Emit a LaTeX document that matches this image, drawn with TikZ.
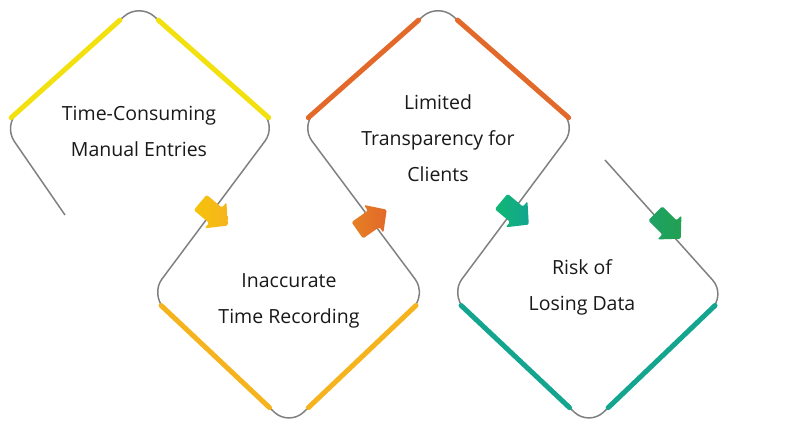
\documentclass[tikz,border=0pt]{standalone}
\usepackage{fontspec}
\setmainfont{Open Sans}
\usetikzlibrary{calc}
\definecolor{cYellow}{HTML}{F2E00F}
\definecolor{cGold}{HTML}{F5B41E}
\definecolor{cOrange}{HTML}{E2692A}
\definecolor{cTeal}{HTML}{14A58F}
\definecolor{cGreen}{HTML}{22A052}
\tikzset
{
  OutlineStyle/.style =
  {
    draw = gray,
    line width = 1.5pt,
    rounded corners = 20pt,
  },
  BandStyle/.style =
  {
    line width = 5pt,
    line cap = round,
  },
  flowarrow/.pic =
  {
    \path[rounded corners = 1.5pt, pic actions]
      (-18,-10) -- (2,-10) -- (2,-17) -- (18,0) -- (2,17) -- (2,10)
      -- (-18,10) -- cycle;
  },
  LabelStyle/.style =
  {
    align = center,
    font = \fontsize{19.5}{36}\selectfont,
    text = black!90,
  }
}
\begin{document}
\begin{tikzpicture}[x=1pt,y=-1pt]
  \useasboundingbox (0,0) rectangle (800,428);
  % corners of the zigzag
  \coordinate (tailA) at (65,215);
  \coordinate (leftA) at (3,125);
  \coordinate (topA) at (139,3);
  \coordinate (rightA) at (277,125);
  \coordinate (leftB) at (150,295);
  \coordinate (bottomB) at (289,426);
  \coordinate (rightB) at (427,295);
  \coordinate (leftC) at (300,125);
  \coordinate (topC) at (438,3);
  \coordinate (rightC) at (577,125);
  \coordinate (leftD) at (450,295);
  \coordinate (bottomD) at (589,426);
  \coordinate (rightD) at (726,295);
  \coordinate (tailD) at (605,160);

  \draw[OutlineStyle] (tailA) -- (leftA) -- (topA) -- (rightA) -- (leftB)
    -- (bottomB) -- (rightB) -- (leftC) -- (topC) -- (rightC) -- (leftD)
    -- (bottomD) -- (rightD) -- (tailD);

  % coloured bands
  \draw[BandStyle, cYellow] ($(leftA)!0.06!(topA)$) -- ($(leftA)!0.86!(topA)$);
  \draw[BandStyle, cYellow] ($(rightA)!0.06!(topA)$) -- ($(rightA)!0.86!(topA)$);
  \draw[BandStyle, cGold] ($(leftB)!0.08!(bottomB)$) -- ($(leftB)!0.86!(bottomB)$);
  \draw[BandStyle, cGold] ($(rightB)!0.08!(bottomB)$) -- ($(rightB)!0.86!(bottomB)$);
  \draw[BandStyle, cOrange] ($(leftC)!0.06!(topC)$) -- ($(leftC)!0.86!(topC)$);
  \draw[BandStyle, cOrange] ($(rightC)!0.06!(topC)$) -- ($(rightC)!0.86!(topC)$);
  \draw[BandStyle, cTeal] ($(leftD)!0.08!(bottomD)$) -- ($(leftD)!0.86!(bottomD)$);
  \draw[BandStyle, cTeal] ($(rightD)!0.08!(bottomD)$) -- ($(rightD)!0.86!(bottomD)$);

  % arrows
  \pic[left color=cYellow!70!orange, right color=cGold, rotate=-40] at (214,214) {flowarrow};
  \pic[left color=cOrange!85!yellow, right color=cOrange, rotate=35] at (372,220) {flowarrow};
  \pic[left color=cTeal!80!green, right color=cTeal, rotate=-40] at (515,213) {flowarrow};
  \pic[left color=cGreen!70!cTeal, right color=cGreen, rotate=-45] at (668,226) {flowarrow};

  % labels
  \node[LabelStyle] (textA) at (139,131) {Time-Consuming\\Manual Entries};
  \node[LabelStyle] (textB) at (289,301) {Inaccurate\\Time Recording};
  \node[LabelStyle] (textC) at (438,138) {Limited\\Transparency for\\Clients};
  \node[LabelStyle] (textD) at (582,287) {Risk of\\Losing Data};
\end{tikzpicture}
\end{document}
